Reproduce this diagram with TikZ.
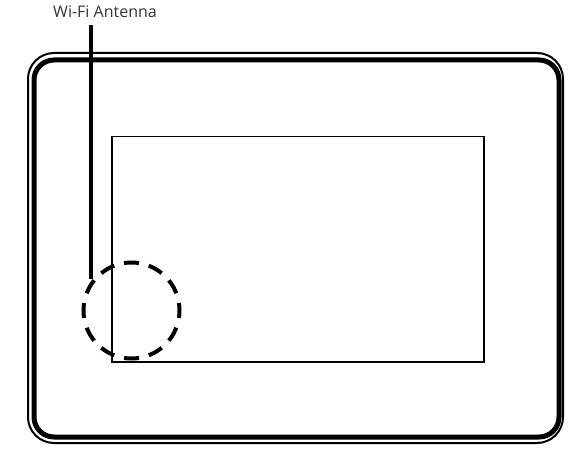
\documentclass[tikz,border=0pt]{standalone}
\usepackage{fontspec}
\setmainfont{Open Sans}
\usetikzlibrary{positioning}
\tikzset{>=latex}

\begin{document}
\begin{tikzpicture}[x=1pt, y=-1pt]
      \useasboundingbox (0,0) rectangle (583,470);
      % housing, double outline
      \draw[line width=2pt, rounded corners=26pt] (28,53) rectangle (563,443);
      \draw[line width=5pt, rounded corners=20pt] (34,60) rectangle (559,437);
      % display
      \node[draw, line width=1.5pt, minimum width=372pt, minimum height=225pt, inner sep=0pt, anchor=north west] (screen) at (111,136) {};
      % antenna zone
      \node[draw, circle, line width=4pt, minimum size=96pt, inner sep=0pt, dash pattern=on 15pt off 10.13pt, dash phase=7.5pt] (zone) at (131.5,310.5) {};
      \node[font=\fontsize{16}{18}\selectfont, text=black!80] (label) at (105,12) {Wi-Fi Antenna};
      \coordinate (feed) at (91,25);
      \coordinate (tip) at (91,279);
      \draw[line width=4pt] (feed) -- (tip);
    \end{tikzpicture}
\end{document}
